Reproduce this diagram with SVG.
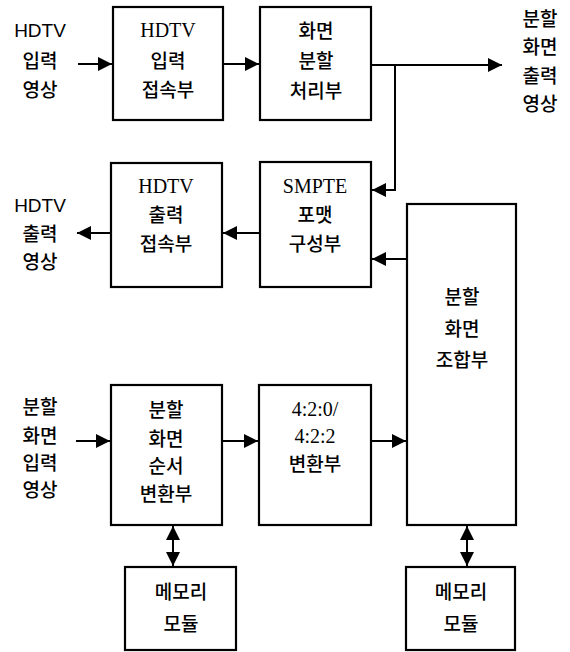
<svg xmlns="http://www.w3.org/2000/svg" width="570" height="652" viewBox="0 0 570 652">
<style>
.box{fill:#fff;stroke:#000;stroke-width:2.2}
.ln{fill:none;stroke:#000;stroke-width:2}
.k{font-family:"Noto Sans CJK KR","Noto Sans",sans-serif;font-size:19px;font-weight:500;text-anchor:middle;fill:#000}
.s{font-family:"Liberation Serif",serif;font-size:20px;text-anchor:middle;fill:#000}
.a{font-family:"Liberation Sans",sans-serif;font-size:19px;text-anchor:middle;fill:#000}
</style>
<defs>
<marker id="ah" viewBox="0 0 14 14" refX="14" refY="7" markerWidth="14" markerHeight="14" markerUnits="userSpaceOnUse" orient="auto-start-reverse">
<path d="M0,0 L14,7 L0,14 Z" fill="#000"/>
</marker>
</defs>
<rect width="570" height="652" fill="#fff"/>
<g id="connectors">
<line class="ln" x1="78" y1="64" x2="112" y2="64" marker-end="url(#ah)"/>
<line class="ln" x1="223" y1="64" x2="259" y2="64" marker-end="url(#ah)"/>
<line class="ln" x1="371" y1="65" x2="502" y2="65" marker-end="url(#ah)"/>
<polyline class="ln" points="395,65 395,190 372,190" marker-end="url(#ah)"/>
<line class="ln" x1="406" y1="259" x2="372" y2="259" marker-end="url(#ah)"/>
<line class="ln" x1="259" y1="233" x2="223" y2="233" marker-end="url(#ah)"/>
<line class="ln" x1="111" y1="233" x2="77" y2="233" marker-end="url(#ah)"/>
<line class="ln" x1="76" y1="441" x2="110" y2="441" marker-end="url(#ah)"/>
<line class="ln" x1="222" y1="441" x2="258" y2="441" marker-end="url(#ah)"/>
<line class="ln" x1="371" y1="441" x2="406" y2="441" marker-end="url(#ah)"/>
<line class="ln" x1="173" y1="546" x2="173" y2="526" marker-end="url(#ah)"/>
<line class="ln" x1="173" y1="546" x2="173" y2="566" marker-end="url(#ah)"/>
<line class="ln" x1="467" y1="546" x2="467" y2="526" marker-end="url(#ah)"/>
<line class="ln" x1="467" y1="546" x2="467" y2="566" marker-end="url(#ah)"/>
</g>
<g id="label-hdtv-in">
<text class="a" x="40" y="37">HDTV</text>
<text class="k" x="40" y="68">입력</text>
<text class="k" x="40" y="97">영상</text>
</g>
<g id="hdtv-input">
<rect class="box" x="113" y="7" width="110" height="113"/>
<text class="s" x="168" y="37">HDTV</text>
<text class="k" x="168" y="68">입력</text>
<text class="k" x="168" y="97">접속부</text>
</g>
<g id="split-proc">
<rect class="box" x="260" y="7" width="111" height="113"/>
<text class="k" x="316" y="38">화면</text>
<text class="k" x="316" y="68">분할</text>
<text class="k" x="316" y="98">처리부</text>
</g>
<g id="label-split-out">
<text class="k" x="540" y="26">분할</text>
<text class="k" x="540" y="54">화면</text>
<text class="k" x="540" y="83">출력</text>
<text class="k" x="540" y="111">영상</text>
</g>
<g id="label-hdtv-out">
<text class="a" x="40" y="212">HDTV</text>
<text class="k" x="40" y="241">출력</text>
<text class="k" x="40" y="269">영상</text>
</g>
<g id="hdtv-output">
<rect class="box" x="111" y="163" width="111" height="124"/>
<text class="s" x="166" y="193">HDTV</text>
<text class="k" x="166" y="222">출력</text>
<text class="k" x="166" y="251">접속부</text>
</g>
<g id="smpte">
<rect class="box" x="260" y="162" width="111" height="125"/>
<text class="s" x="315" y="193">SMPTE</text>
<text class="k" x="315" y="222">포맷</text>
<text class="k" x="315" y="251">구성부</text>
</g>
<g id="combine">
<rect class="box" x="407" y="204" width="109" height="321"/>
<text class="k" x="462" y="304">분할</text>
<text class="k" x="462" y="336">화면</text>
<text class="k" x="462" y="367">조합부</text>
</g>
<g id="label-split-in">
<text class="k" x="40" y="414">분할</text>
<text class="k" x="40" y="443">화면</text>
<text class="k" x="40" y="470">입력</text>
<text class="k" x="40" y="497">영상</text>
</g>
<g id="reorder">
<rect class="box" x="111" y="385" width="111" height="140"/>
<text class="k" x="166" y="417">분할</text>
<text class="k" x="166" y="446">화면</text>
<text class="k" x="166" y="473">순서</text>
<text class="k" x="166" y="501">변환부</text>
</g>
<g id="conv420">
<rect class="box" x="259" y="385" width="112" height="140"/>
<text class="s" x="315" y="416">4:2:0/</text>
<text class="s" x="315" y="443">4:2:2</text>
<text class="k" x="315" y="471">변환부</text>
</g>
<g id="mem1">
<rect class="box" x="125" y="567" width="111" height="83"/>
<text class="k" x="181" y="599">메모리</text>
<text class="k" x="181" y="631">모듈</text>
</g>
<g id="mem2">
<rect class="box" x="406" y="567" width="109" height="83"/>
<text class="k" x="461" y="599">메모리</text>
<text class="k" x="461" y="631">모듈</text>
</g>
</svg>
